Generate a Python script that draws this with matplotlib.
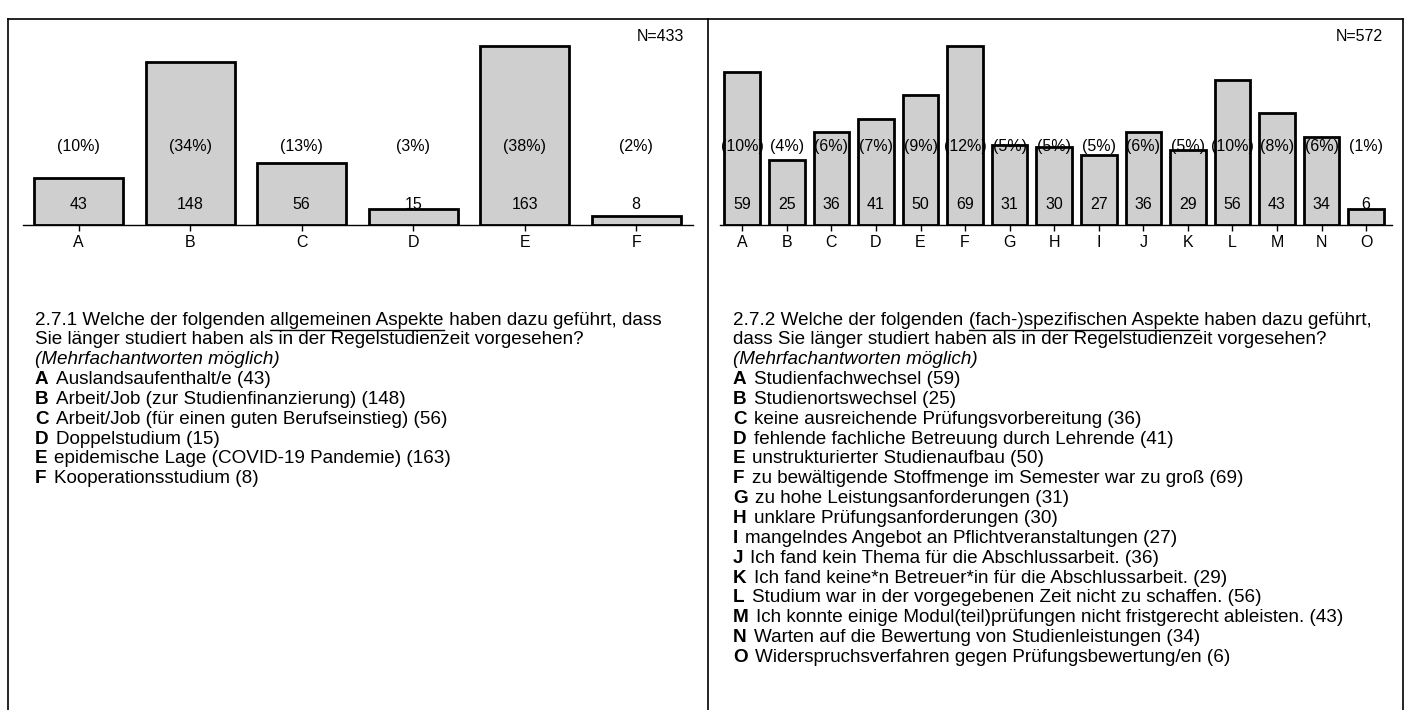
import matplotlib
matplotlib.use("Agg")
import matplotlib.pyplot as plt
from matplotlib.lines import Line2D
import matplotlib.transforms as mtransforms

plt.rcParams['font.family'] = ['Liberation Sans', 'DejaVu Sans']

# ---------------- data ----------------
left_cats = ["A", "B", "C", "D", "E", "F"]
left_vals = [43, 148, 56, 15, 163, 8]
left_pcts = ["(10%)", "(34%)", "(13%)", "(3%)", "(38%)", "(2%)"]
left_n = "N=433"

right_cats = ["A", "B", "C", "D", "E", "F", "G", "H", "I", "J", "K", "L", "M", "N", "O"]
right_vals = [59, 25, 36, 41, 50, 69, 31, 30, 27, 36, 29, 56, 43, 34, 6]
right_pcts = ["(10%)", "(4%)", "(6%)", "(7%)", "(9%)", "(12%)", "(5%)", "(5%)", "(5%)",
              "(6%)", "(5%)", "(10%)", "(8%)", "(6%)", "(1%)"]
right_n = "N=572"

left_q = ["2.7.1 Welche der folgenden ", "allgemeinen Aspekte", " haben dazu geführt, dass"]
left_q2 = "Sie länger studiert haben als in der Regelstudienzeit vorgesehen?"
left_items = ["Auslandsaufenthalt/e (43)",
              "Arbeit/Job (zur Studienfinanzierung) (148)",
              "Arbeit/Job (für einen guten Berufseinstieg) (56)",
              "Doppelstudium (15)",
              "epidemische Lage (COVID-19 Pandemie) (163)",
              "Kooperationsstudium (8)"]

right_q = ["2.7.2 Welche der folgenden ", "(fach-)spezifischen Aspekte", " haben dazu geführt,"]
right_q2 = "dass Sie länger studiert haben als in der Regelstudienzeit vorgesehen?"
right_items = ["Studienfachwechsel (59)",
               "Studienortswechsel (25)",
               "keine ausreichende Prüfungsvorbereitung (36)",
               "fehlende fachliche Betreuung durch Lehrende (41)",
               "unstrukturierter Studienaufbau (50)",
               "zu bewältigende Stoffmenge im Semester war zu groß (69)",
               "zu hohe Leistungsanforderungen (31)",
               "unklare Prüfungsanforderungen (30)",
               "mangelndes Angebot an Pflichtveranstaltungen (27)",
               "Ich fand kein Thema für die Abschlussarbeit. (36)",
               "Ich fand keine*n Betreuer*in für die Abschlussarbeit. (29)",
               "Studium war in der vorgegebenen Zeit nicht zu schaffen. (56)",
               "Ich konnte einige Modul(teil)prüfungen nicht fristgerecht ableisten. (43)",
               "Warten auf die Bewertung von Studienleistungen (34)",
               "Widerspruchsverfahren gegen Prüfungsbewertung/en (6)"]
sub_note = "(Mehrfachantworten möglich)"

W, H = 1407, 710
fig = plt.figure(figsize=(W / 100, H / 100), dpi=100)
FS = 11.5     # chart labels
TFS = 13.6    # question text


def px(x, y):
    """pixel (from top-left) -> figure fraction"""
    return x / W, 1 - y / H


def draw_chart(rect, cats, vals, pcts, ntext, xmax):
    ax = fig.add_axes(rect)
    xs = list(range(len(cats)))
    ax.bar(xs, vals, width=0.8, color="#cfcfcf", edgecolor="black", linewidth=2.0, zorder=2)
    ax.set_xlim(-0.5, xmax)
    ax.set_ylim(0, max(vals) * 1.089)
    for s in ["top", "right", "left"]:
        ax.spines[s].set_visible(False)
    ax.spines["bottom"].set_linewidth(1.0)
    ax.set_yticks([])
    ax.set_xticks(xs)
    ax.set_xticklabels(cats, fontsize=FS)
    ax.tick_params(axis="x", direction="inout", length=9, width=1.0, pad=3)
    trans = mtransforms.blended_transform_factory(ax.transData, ax.transAxes)
    for x, v, p in zip(xs, vals, pcts):
        ax.text(x, 0.4015, p, transform=trans, ha="center", va="center", fontsize=FS, zorder=3)
        ax.text(x, 0.103, str(v), transform=trans, ha="center", va="center", fontsize=FS, zorder=3)
    ax.text(0.987, 0.966, ntext, transform=ax.transAxes, ha="right", va="center", fontsize=FS)
    return ax


l0, b0 = px(23, 225)
draw_chart([l0, b0, 670 / W, 195 / H], left_cats, left_vals, left_pcts, left_n, 5.51)
l1, b1 = px(720, 225)
draw_chart([l1, b1, 672 / W, 195 / H], right_cats, right_vals, right_pcts, right_n, 14.58)

renderer = fig.canvas.get_renderer()


def seq_text(x0, y0, parts, underline_idx=None):
    x = x0
    for i, part in enumerate(parts):
        t = fig.text(*px(x, y0), part, fontsize=TFS, ha="left", va="center")
        bb = t.get_window_extent(renderer=renderer)
        w = bb.width
        if i == underline_idx:
            yline = y0 + 10
            fig.add_artist(Line2D([x / W, (x + w) / W], [1 - yline / H] * 2,
                                  color="black", linewidth=1.0))
        x = x + w


def text_block(x0, y0, q, q2, items, step=19.85):
    seq_text(x0, y0, q, underline_idx=1)
    fig.text(*px(x0, y0 + step), q2, fontsize=TFS, ha="left", va="center")
    fig.text(*px(x0, y0 + 2 * step), sub_note, fontsize=TFS, style="italic", ha="left", va="center")
    letters = "ABCDEFGHIJKLMNO"
    for i, it in enumerate(items):
        yy = y0 + (3 + i) * step
        t = fig.text(*px(x0, yy), letters[i], fontsize=TFS, weight="bold", ha="left", va="center")
        bb = t.get_window_extent(renderer=renderer)
        fig.text(*px(x0 + bb.width + 7, yy), it, fontsize=TFS, ha="left", va="center")


text_block(35, 320, left_q, left_q2, left_items)
text_block(733, 320, right_q, right_q2, right_items)


# panel frame lines
def fline(x0, y0, x1, y1, lw=1.2):
    fig.add_artist(Line2D([x0 / W, x1 / W], [1 - y0 / H, 1 - y1 / H], color="black", linewidth=lw))


fline(8, 19, 1403, 19)
fline(8, 19, 8, 710)
fline(708, 19, 708, 710)
fline(1403, 19, 1403, 710)

fig.savefig("out.png", dpi=100)
